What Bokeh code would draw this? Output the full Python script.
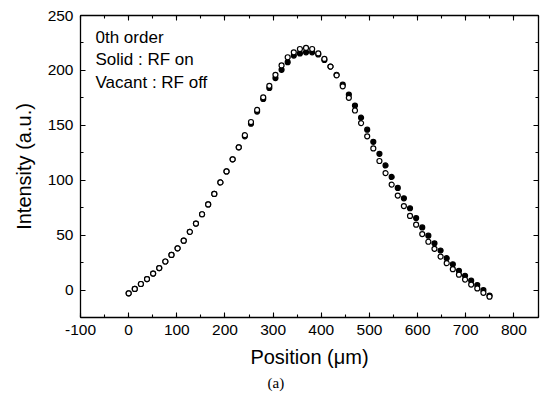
from bokeh.plotting import figure
from bokeh.models import Range1d, LinearAxis, SingleIntervalTicker, Label, Title, CustomJSTickFormatter
from bokeh.embed import file_html
from bokeh.resources import INLINE

# Position (um)
position = [0, 12.7, 25.4, 38.1, 50.8, 63.5, 76.2, 88.9, 101.6, 114.3,
            127.0, 139.7, 152.4, 165.1, 177.8, 190.5, 203.2, 215.9, 228.6, 241.3,
            254.0, 266.7, 279.4, 292.1, 304.8, 317.5, 330.2, 342.9, 355.6, 368.3,
            381.0, 393.7, 406.4, 419.1, 431.8, 444.5, 457.2, 469.9, 482.6, 495.3,
            508.0, 520.7, 533.4, 546.1, 558.8, 571.5, 584.2, 596.9, 609.6, 622.3,
            635.0, 647.7, 660.4, 673.1, 685.8, 698.5, 711.2, 723.9, 736.6, 749.3]

# Solid : RF on
rf_on = [-3, 1, 5.5, 10, 15, 20, 26, 32, 38, 45,
         53, 60.5, 69, 78, 87.5, 98, 108, 119, 130, 140,
         151.5, 162.5, 174, 184, 193, 200.5, 207.5, 213.5, 215.5, 216.5,
         216.5, 214.5, 209.5, 203.5, 196, 187, 178, 168, 157, 146,
         135, 124, 113.5, 103, 93, 83.5, 74.5, 65.5, 57, 49.5,
         42.5, 36, 29, 23.5, 17.5, 13, 8.5, 4.5, 0, -5]

# Vacant : RF off
rf_off = [-3, 1, 5.5, 10, 15, 20, 26, 32, 38, 45,
          53, 60.5, 69, 78, 87.5, 98, 108, 119, 130, 141,
          153, 164, 175.5, 186, 196, 204.5, 212, 216.5, 219.5, 220.5,
          219.5, 215.5, 210.5, 203.5, 195.5, 185.5, 175, 163.5, 152, 140,
          129, 117.5, 106.5, 96, 86, 76.5, 67.5, 59.5, 51, 44,
          37.5, 30.5, 24.5, 19, 14, 9.5, 5, 1.5, -2.5, -6]

FONT = "Liberation Sans"

p = figure(width=546, height=392, output_backend="svg", toolbar_location=None,
           x_range=Range1d(-100, 851), y_range=Range1d(-25, 250),
           min_border_left=80, min_border_right=8, min_border_top=15, min_border_bottom=20,
           background_fill_color="white", border_fill_color="white")
p.grid.visible = False
p.outline_line_color = None

p.xaxis.ticker = SingleIntervalTicker(interval=100, num_minor_ticks=2)
p.yaxis.ticker = SingleIntervalTicker(interval=50, num_minor_ticks=2)
plain = CustomJSTickFormatter(code="return tick.toString()")
p.xaxis.formatter = plain
p.yaxis.formatter = CustomJSTickFormatter(code="return tick.toString()")

def style(ax, labels=True):
    ax.axis_line_color = "black"
    ax.axis_line_width = 1.3
    ax.major_tick_line_color = "black"
    ax.minor_tick_line_color = "black"
    ax.major_tick_line_width = 1.1
    ax.minor_tick_line_width = 1.1
    ax.major_tick_in = 5
    ax.major_tick_out = 0
    ax.minor_tick_in = 3
    ax.minor_tick_out = 0
    ax.major_label_text_font = FONT
    ax.major_label_text_font_size = "15.5px"
    ax.major_label_text_color = "black"
    ax.major_label_standoff = 7
    ax.axis_label_text_font = FONT
    ax.axis_label_text_font_style = "normal"
    ax.axis_label_text_color = "black"
    if not labels:
        ax.formatter = CustomJSTickFormatter(code="return ''")
        ax.major_label_standoff = 0

style(p.xaxis[0])
style(p.yaxis[0])
p.xaxis.axis_label = "Position (\u03bcm)"
p.yaxis.axis_label = "Intensity (a.u.)"
p.xaxis.axis_label_text_font_size = "20px"
p.yaxis.axis_label_text_font_size = "20px"
p.xaxis.axis_label_standoff = 8
p.yaxis.axis_label_standoff = 10

top = LinearAxis(ticker=SingleIntervalTicker(interval=100, num_minor_ticks=2))
right = LinearAxis(ticker=SingleIntervalTicker(interval=50, num_minor_ticks=2))
style(top, labels=False)
style(right, labels=False)
p.add_layout(top, "above")
p.add_layout(right, "right")

p.scatter(position, rf_on, size=5, marker="circle",
          fill_color="black", line_color="black", line_width=1.2)
p.scatter(position, rf_off, size=5, marker="circle",
          fill_color="white", line_color="black", line_width=1.2)

note = Label(x=15, y=290, x_units="screen", y_units="screen",
             text="0th order\nSolid : RF on\nVacant : RF off",
             text_font=FONT, text_font_size="17px", text_color="black",
             text_baseline="top", text_align="left", text_line_height=1.2)
p.add_layout(note)

cap = Title(text="(a)", align="left", offset=187, standoff=4,
            text_font="Liberation Serif", text_font_size="15px",
            text_font_style="normal", text_color="black")
p.add_layout(cap, "below")

open("out.html", "w").write(file_html(p, INLINE))
